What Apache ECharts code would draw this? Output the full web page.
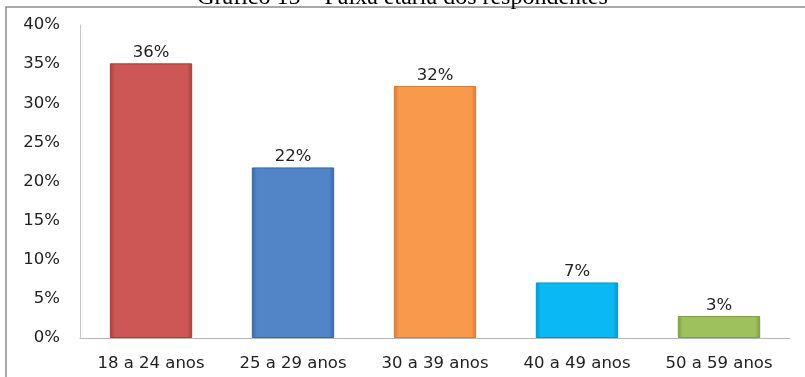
<!DOCTYPE html>
<html>
<head>
<meta charset="utf-8">
<script src="https://cdn.jsdelivr.net/npm/echarts@6/dist/echarts.min.js"></script>
<style>html,body{margin:0;padding:0;background:#fff}#c{width:805px;height:377px}</style>
</head>
<body>
<div id="c"></div>
<script>
const categories = ['18 a 24 anos', '25 a 29 anos', '30 a 39 anos', '40 a 49 anos', '50 a 59 anos'];
const values = [35.1, 21.8, 32.2, 7.1, 2.8];
const valueLabels = ['36%', '22%', '32%', '7%', '3%'];
const barColors = [
  ['#A83E3B', '#CC5755', '#A83E3B'],
  ['#3A68A6', '#5085C8', '#3A68A6'],
  ['#D87A30', '#F9994C', '#D87A30'],
  ['#0096CF', '#0AB8F4', '#0096CF'],
  ['#7F9C42', '#9EC15E', '#7F9C42']
];
const yTicks = [0, 5, 10, 15, 20, 25, 30, 35, 40];
const titleText = 'Gráfico 15 – Faixa etária dos respondentes';

const chart = echarts.init(document.getElementById('c'), null, {renderer: 'canvas'});
const font = '"DejaVu Sans", sans-serif';
chart.setOption({
  animation: false,
  backgroundColor: '#fff',
  title: {
    text: titleText, left: 'center', top: -19,
    textStyle: {fontFamily: '"Liberation Serif", serif', fontSize: 24, fontWeight: 'normal', color: '#000'}
  },
  graphic: [{
    type: 'rect', shape: {x: 6, y: 7, width: 820, height: 400},
    style: {fill: 'none', stroke: '#8c8c8c', lineWidth: 1.5}, z: 0, silent: true
  }],
  grid: {left: 80, right: 15, top: 25, bottom: 39, containLabel: false},
  xAxis: {
    type: 'category', data: categories,
    axisLine: {lineStyle: {color: '#b5b5b5', width: 1}},
    axisTick: {show: false},
    axisLabel: {fontFamily: font, fontSize: 16.5, color: '#222', margin: 17}
  },
  yAxis: {
    type: 'value', min: yTicks[0], max: yTicks[yTicks.length - 1], interval: 5,
    axisLine: {show: true, lineStyle: {color: '#c8c8c8', width: 1}},
    axisTick: {show: false},
    splitLine: {show: false},
    axisLabel: {fontFamily: font, fontSize: 16.5, color: '#222', margin: 20, formatter: v => v + '%'}
  },
  series: [{
    type: 'bar', barWidth: '58%',
    data: values.map((v, i) => ({
      value: v,
      itemStyle: {
        color: new echarts.graphic.LinearGradient(0, 0, 1, 0, [
          {offset: 0, color: barColors[i][0]},
          {offset: 0.06, color: barColors[i][1]},
          {offset: 0.94, color: barColors[i][1]},
          {offset: 1, color: barColors[i][2]}
        ]),
        borderColor: barColors[i][0], borderWidth: 1
      },
      label: {formatter: valueLabels[i]}
    })),
    label: {show: true, position: 'top', distance: 2, fontFamily: font, fontSize: 16.5, color: '#222'}
  }]
});
</script>
</body>
</html>
